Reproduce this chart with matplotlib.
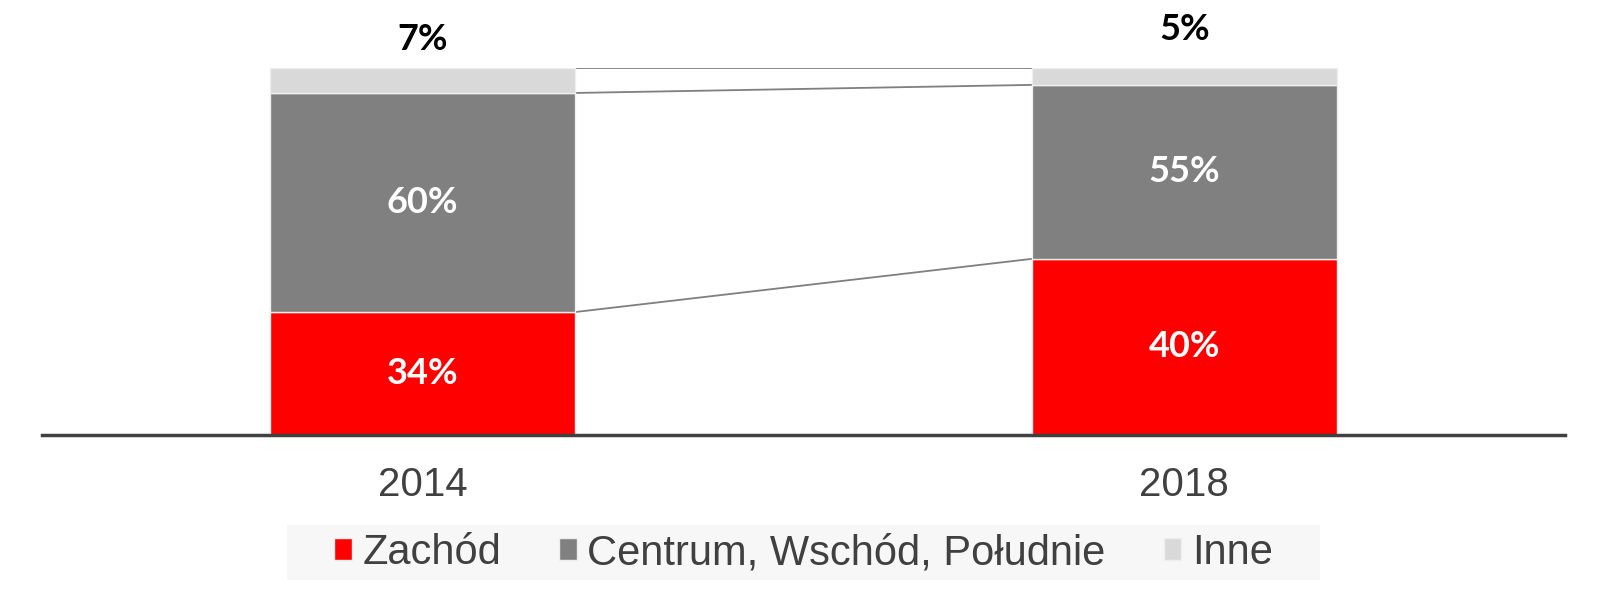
import matplotlib.pyplot as plt
from matplotlib.patches import Patch, Rectangle
import numpy as np

years = ["2014", "2018"]
series = ["Zachód", "Centrum, Wschód, Południe", "Inne"]
colors = ["#ff0000", "#808080", "#d9d9d9"]
# bar heights as drawn (share of the bar)
zachod = [33.5, 48.0]
centrum = [59.7, 47.4]
inne = [6.8, 4.6]
# labels as printed on the chart
zachod_lbl = ["34%", "40%"]
centrum_lbl = ["60%", "55%"]
inne_lbl = ["7%", "5%"]

W, H = 1613, 597
fig = plt.figure(figsize=(W / 100, H / 100), dpi=100)
ax = fig.add_axes([42 / W, 162 / H, 1523 / W, 367 / H])

x = np.arange(len(years))
w = 0.4
vals = [zachod, centrum, inne]
bottom = np.zeros(len(years))
tops = []
for v, c in zip(vals, colors):
    ax.bar(x, v, w, bottom=bottom, color=c, edgecolor="#eeeeee", linewidth=1, zorder=2)
    bottom = bottom + np.array(v)
    tops.append(bottom.copy())

# connector lines between the bars
for t in tops:
    ax.plot([x[0] + w / 2, x[1] - w / 2], [t[0], t[1]], color="#7f7f7f", lw=1.3, zorder=1)

lbl_font = dict(fontsize=26, fontweight="bold", family="Lato")
for i in x:
    ax.text(i, zachod[i] / 2, zachod_lbl[i], ha="center", va="center", color="white", **lbl_font)
    ax.text(i, zachod[i] + centrum[i] / 2, centrum_lbl[i], ha="center", va="center",
            color="white", **lbl_font)
# labels on top
top_off = [28, 38]
for i in x:
    ax.annotate(inne_lbl[i], (i, tops[-1][i]), xytext=(0, top_off[i] * 0.72),
                textcoords="offset points", ha="center", va="center", color="black",
                annotation_clip=False, **lbl_font)

ax.set_xlim(-0.5, 1.5)
ax.set_ylim(0, 100)
for s in ["top", "right", "left"]:
    ax.spines[s].set_visible(False)
ax.spines["bottom"].set_color("#404040")
ax.spines["bottom"].set_linewidth(2.5)
ax.set_yticks([])
ax.set_xticks(x)
ax.set_xticklabels(years, fontsize=29, color="#404040", family="Liberation Sans")
ax.tick_params(axis="x", length=0, pad=22)

# legend background band
fig.patches.append(Rectangle((287 / W, 1 - 580 / H), 1033 / W, 55 / H,
                             transform=fig.transFigure, facecolor="#f7f7f7",
                             edgecolor="none", zorder=0))
handles = [Patch(facecolor=c, edgecolor="#eeeeee") for c in colors]
leg = fig.legend(handles, series, loc="center", bbox_to_anchor=(803.5 / W, 1 - 553 / H),
                 ncol=3, frameon=False, handlelength=0.42, handleheight=0.42,
                 handletextpad=0.25, columnspacing=1.4, borderpad=0.2,
                 prop={"family": "Liberation Sans", "size": 30})
for t in leg.get_texts():
    t.set_color("#404040")

fig.savefig("out.png", dpi=100)
